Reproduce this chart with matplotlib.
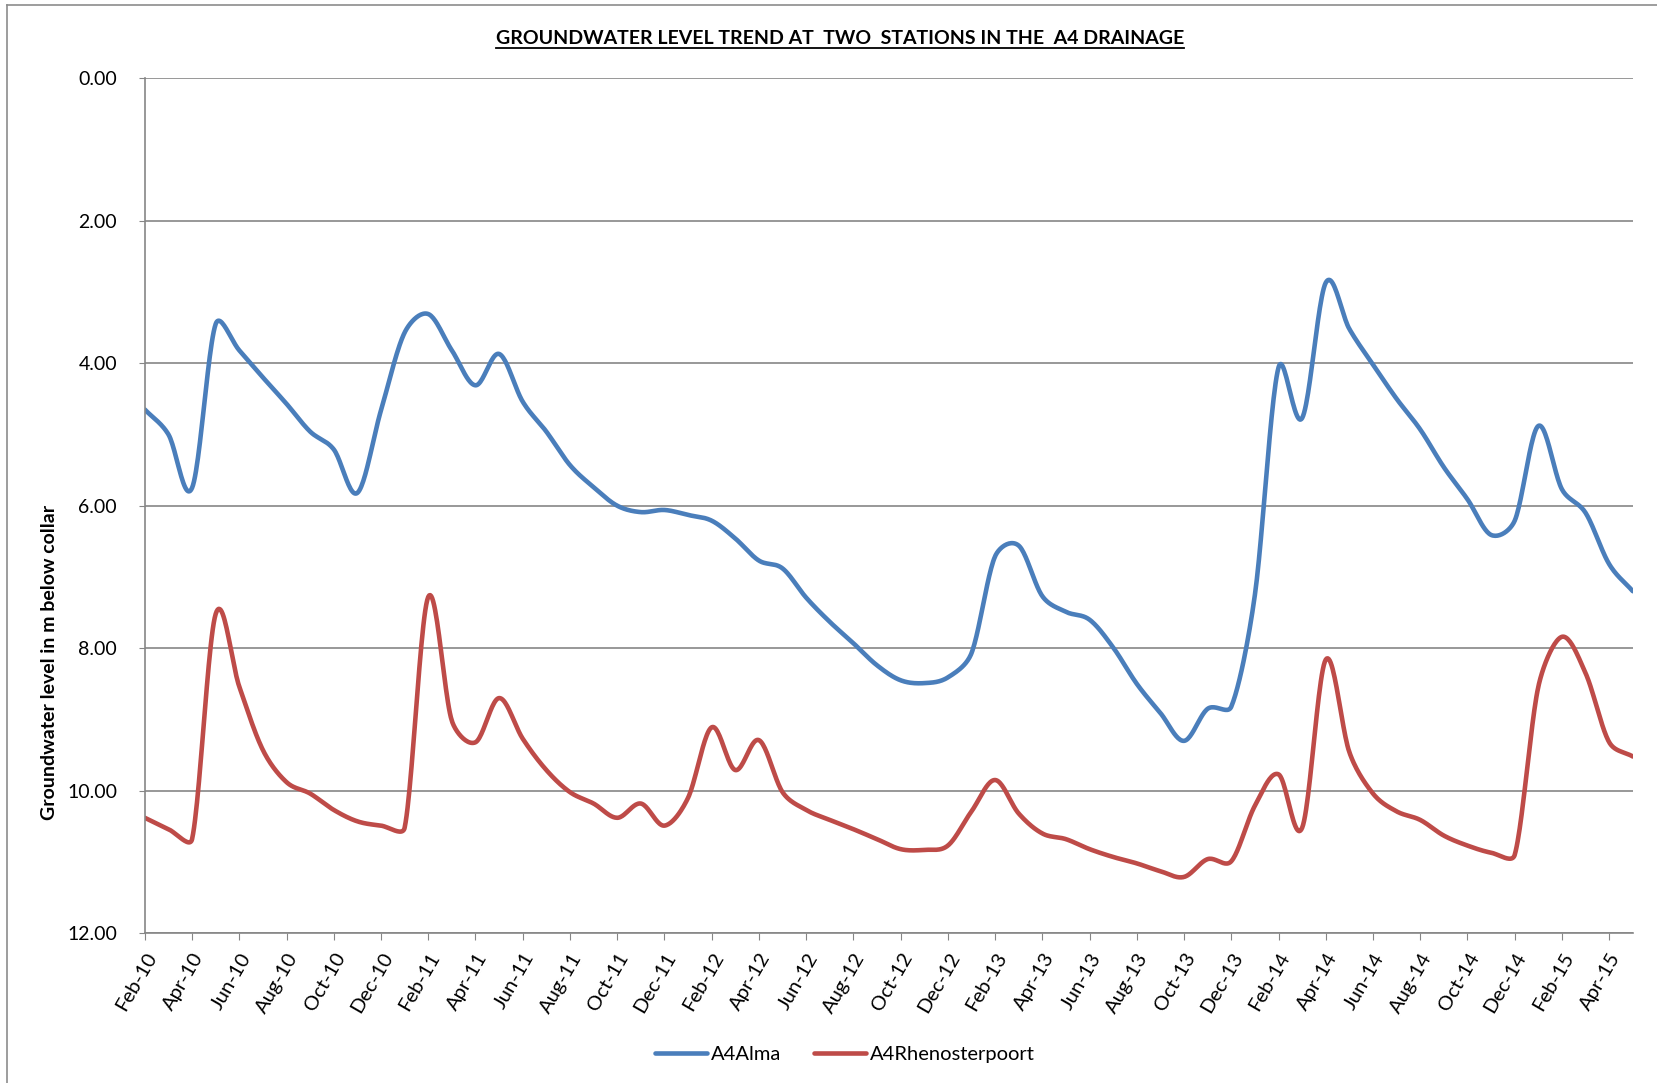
import numpy as np
import matplotlib
matplotlib.use("Agg")
import matplotlib.pyplot as plt
from matplotlib.lines import Line2D

plt.rcParams['font.family'] = ['Lato', 'DejaVu Sans']

# monthly readings, Feb-10 .. May-15 (metres below collar)
alma = [4.65, 5.0, 5.75, 3.45, 3.82, 4.2, 4.57, 4.96, 5.21, 5.82, 4.66, 3.57,
        3.31, 3.82, 4.31, 3.87, 4.54, 4.96, 5.43, 5.74, 6.0, 6.09, 6.06, 6.13,
        6.21, 6.46, 6.77, 6.88, 7.29, 7.63, 7.93, 8.24, 8.45, 8.49, 8.41, 8.07,
        6.71, 6.56, 7.27, 7.49, 7.6, 7.99, 8.5, 8.91, 9.3, 8.85, 8.82, 7.25,
        4.06, 4.77, 2.87, 3.52, 4.02, 4.5, 4.93, 5.46, 5.91, 6.41, 6.21, 4.88,
        5.77, 6.1, 6.82, 7.2]
rhenosterpoort = [10.38, 10.54, 10.68, 7.52, 8.54, 9.43, 9.88, 10.04, 10.27, 10.43, 10.49, 10.52,
                  7.28, 9.02, 9.32, 8.70, 9.27, 9.71, 10.02, 10.18, 10.38, 10.18, 10.49, 10.1,
                  9.11, 9.71, 9.29, 10.02, 10.27, 10.41, 10.54, 10.68, 10.82, 10.83, 10.77, 10.29,
                  9.85, 10.32, 10.6, 10.68, 10.82, 10.93, 11.02, 11.13, 11.21, 10.96, 10.99, 10.21,
                  9.77, 10.52, 8.16, 9.46, 10.04, 10.29, 10.41, 10.63, 10.77, 10.87, 10.9, 8.54,
                  7.84, 8.35, 9.32, 9.52]
tick_labels = ['Feb-10', 'Apr-10', 'Jun-10', 'Aug-10', 'Oct-10', 'Dec-10',
               'Feb-11', 'Apr-11', 'Jun-11', 'Aug-11', 'Oct-11', 'Dec-11',
               'Feb-12', 'Apr-12', 'Jun-12', 'Aug-12', 'Oct-12', 'Dec-12',
               'Feb-13', 'Apr-13', 'Jun-13', 'Aug-13', 'Oct-13', 'Dec-13',
               'Feb-14', 'Apr-14', 'Jun-14', 'Aug-14', 'Oct-14', 'Dec-14',
               'Feb-15', 'Apr-15']


def smooth(y, sx=23.7, sy=71.3, c=0.4, n=24):
    # Catmull-Rom style bezier in screen-like space, with the handles kept
    # shorter than the neighbouring segment (close to Excel's smoothed line)
    P = np.column_stack([np.arange(len(y)) * sx, np.asarray(y, float) * sy])
    N = len(P)
    T = np.zeros_like(P)
    T[1:-1] = (P[2:] - P[:-2]) / 6.0
    T[0] = (P[1] - P[0]) / 3.0
    T[-1] = (P[-1] - P[-2]) / 3.0
    tl = np.linalg.norm(T, axis=1)
    d = np.linalg.norm(P[1:] - P[:-1], axis=1)
    t = np.linspace(0, 1, n, endpoint=False)[:, None]
    out = []
    for i in range(N - 1):
        h1 = T[i] * min(1.0, c * d[i] / tl[i])
        h2 = T[i + 1] * min(1.0, c * d[i] / tl[i + 1])
        c1 = P[i] + h1
        c2 = P[i + 1] - h2
        seg = ((1 - t) ** 3 * P[i] + 3 * (1 - t) ** 2 * t * c1
               + 3 * (1 - t) * t ** 2 * c2 + t ** 3 * P[i + 1])
        out.append(seg)
    out.append(P[-1:])
    out = np.vstack(out)
    return out[:, 0] / sx, out[:, 1] / sy


fig = plt.figure(figsize=(16.57, 10.83), dpi=100)
ax = fig.add_axes([0.0874, 0.1383, 0.898, 0.7895])

grey = '#868686'
xa, ya = smooth(alma)
xr, yr = smooth(rhenosterpoort)
ax.plot(xa, ya, color='#4A7EBB', lw=3.3, label='A4Alma', solid_capstyle='round')
ax.plot(xr, yr, color='#BE4B48', lw=3.3, label='A4Rhenosterpoort', solid_capstyle='round')

ax.set_xlim(0, len(alma) - 1)
ax.set_ylim(12, 0)
ax.set_yticks(np.arange(0, 13, 2))
ax.set_yticklabels(['%.2f' % v for v in np.arange(0, 13, 2)], fontsize=14)
ax.set_xticks(np.arange(0, len(tick_labels) * 2, 2))
ax.set_xticklabels(tick_labels, rotation=60, ha='right', rotation_mode='anchor', fontsize=14.5)
ax.yaxis.grid(True, color=grey, lw=1.2)
ax.set_axisbelow(True)
for s in ['top', 'right']:
    ax.spines[s].set_visible(False)
for s in ['left', 'bottom']:
    ax.spines[s].set_color(grey)
    ax.spines[s].set_linewidth(1.2)
ax.tick_params(axis='x', direction='out', length=5, color=grey, pad=7)
ax.tick_params(axis='y', direction='out', length=4, color=grey, pad=16)

fig.text(50 / 1657, 1 - 662 / 1083, 'Groundwater level in m below collar',
         rotation=90, fontsize=14, fontweight='bold', ha='center', va='center')

title = fig.text(840 / 1657, 1 - 38 / 1083,
                 'GROUNDWATER LEVEL TREND AT  TWO  STATIONS IN THE  A4 DRAINAGE',
                 fontsize=14, fontweight='bold', ha='center', va='center')

fig.legend(loc='center', bbox_to_anchor=(845 / 1657, 1 - 1054 / 1083), ncol=2,
           frameon=False, fontsize=14.5, handlelength=2.6, columnspacing=1.6, handletextpad=0.2)

# chart area border (left and top)
fig.add_artist(Line2D([7 / 1657, 7 / 1657], [0, 1 - 5 / 1083], color='#8c8c8c', lw=1.2))
fig.add_artist(Line2D([7 / 1657, 1], [1 - 5 / 1083, 1 - 5 / 1083], color='#8c8c8c', lw=1.2))

# underline the title
fig.canvas.draw()
bb = title.get_window_extent(fig.canvas.get_renderer()).transformed(fig.transFigure.inverted())
fig.add_artist(Line2D([bb.x0, bb.x1], [bb.y0 - 0.001, bb.y0 - 0.001], color='black', lw=1.3))

fig.savefig('out.png', dpi=100)
